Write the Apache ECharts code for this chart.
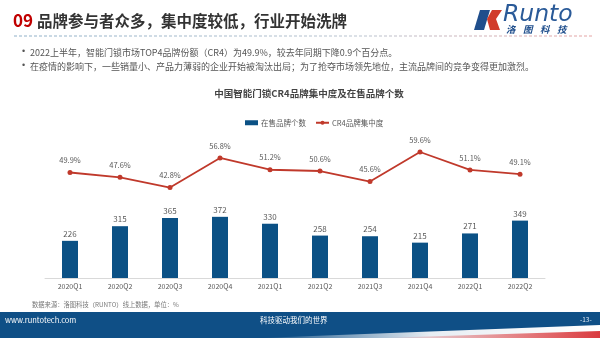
<!DOCTYPE html>
<html><head><meta charset="utf-8">
<script src="https://cdn.jsdelivr.net/npm/echarts@6/dist/echarts.min.js"></script>
<style>html,body{margin:0;padding:0;background:#fff}#c{width:600px;height:338px}</style>
</head><body><div id="c"></div>
<script>
const categories = ['2020Q1','2020Q2','2020Q3','2020Q4','2021Q1','2021Q2','2021Q3','2021Q4','2022Q1','2022Q2'];
const brandCount = [226,315,365,372,330,258,254,215,271,349];
const cr4 = [49.9,47.6,42.8,56.8,51.2,50.6,45.6,59.6,51.1,49.1];
const seriesNames = ['在售品牌个数','CR4品牌集中度'];
const chartTitle = '中国智能门锁CR4品牌集中度及在售品牌个数';
const slideTitleNum = '09';
const slideTitle = '品牌参与者众多，集中度较低，行业开始洗牌';
const bullets = [
  '2022上半年，智能门锁市场TOP4品牌份额（CR4）为49.9%，较去年同期下降0.9个百分点。',
  '在疫情的影响下，一些销量小、产品力薄弱的企业开始被淘汰出局；为了抢夺市场领先地位，主流品牌间的竞争变得更加激烈。'
];
const logoWord = 'Runto';
const logoChars = ['洛','图','科','技'];
const sourceNote = '数据来源：洛图科技（RUNTO）线上数据，单位：%';
const footerLeft = 'www.runtotech.com';
const footerMid = '科技驱动我们的世界';
const footerRight = '-13-';

const FONT = '"Noto Sans CJK SC", "Noto Sans", sans-serif';
const chart = echarts.init(document.getElementById('c'));

const logoCharGraphics = logoChars.map((ch, i) => ({
  type: 'text', left: 506 + i * 17, top: 25,
  style: { text: ch, fontSize: 9.5, fontWeight: 'bold', fontStyle: 'italic', fill: '#1f4e8c', fontFamily: FONT }
}));

chart.setOption({
  backgroundColor: '#fff',
  textStyle: { fontFamily: FONT },
  title: {
    text: chartTitle, left: 304, top: 84, textAlign: 'center',
    textStyle: { fontSize: 9.5, fontWeight: 'bold', color: '#444', fontFamily: FONT }
  },
  legend: {
    top: 114, left: 240, itemGap: 9, itemWidth: 13, itemHeight: 5,
    textStyle: { fontSize: 7.5, color: '#595959', fontFamily: FONT, padding: [0, 0, 0, -2] },
    data: [{ name: seriesNames[0], icon: 'rect' }, { name: seriesNames[1] }]
  },
  grid: { left: 45, right: 55, top: 130, bottom: 60, containLabel: false },
  xAxis: {
    type: 'category', data: categories,
    axisLine: { lineStyle: { color: '#d9d9d9' } },
    axisTick: { show: false },
    axisLabel: { fontSize: 7, color: '#595959', margin: 5, fontFamily: FONT }
  },
  yAxis: [
    { type: 'value', min: 0, max: 900, show: false, splitLine: { show: false } },
    { type: 'value', min: 0, max: 70, show: false, splitLine: { show: false } }
  ],
  series: [
    {
      name: seriesNames[0], type: 'bar', data: brandCount, barWidth: 16, yAxisIndex: 0,
      itemStyle: { color: '#0b5185' },
      label: { show: true, position: 'top', distance: 3, fontSize: 8, color: '#595959', fontFamily: FONT }
    },
    {
      name: seriesNames[1], type: 'line', data: cr4, yAxisIndex: 1,
      symbol: 'circle', symbolSize: 5,
      lineStyle: { color: '#c0392b', width: 1.8 }, itemStyle: { color: '#c0392b' },
      label: { show: true, position: 'top', distance: 6, fontSize: 7.5, color: '#595959', formatter: '{c}%', fontFamily: FONT }
    }
  ],
  graphic: [
    { type: 'text', left: 13, top: 12, style: { text: slideTitleNum, fontSize: 17, fontWeight: 'bold', fill: '#c00000', fontFamily: FONT } },
    { type: 'text', left: 37, top: 13, style: { text: slideTitle, fontSize: 15.5, fontWeight: 'bold', fill: '#333', fontFamily: FONT } },
    { type: 'line', shape: { x1: 14, y1: 36, x2: 592, y2: 36 },
      style: { stroke: new echarts.graphic.LinearGradient(0,0,1,0,[{offset:0,color:'#8fb0c8'},{offset:0.6,color:'#b9c3cf'},{offset:1,color:'#e6a3a3'}]), lineWidth: 1, lineDash: [3, 2] } },
    // logo
    { type: 'polygon', shape: { points: [[480,10],[490,10],[484,30],[474,30]] }, style: { fill: '#1f4e8c' } },
    { type: 'polygon', shape: { points: [[492,10],[502,10],[496,19],[500,30],[490,30],[487,19]] }, style: { fill: '#d13b2b' } },
    { type: 'text', left: 503, top: 3, style: { text: logoWord, fontSize: 23.5, fontStyle: 'italic', fill: '#2a5a98', fontFamily: 'DejaVu Sans, sans-serif' } },
    ...logoCharGraphics,
    // bullets
    { type: 'text', left: 22, top: 47, style: { text: '•', fontSize: 9, fill: '#555' } },
    { type: 'text', left: 30, top: 48, style: { text: bullets[0], fontSize: 9, fill: '#555', fontFamily: FONT } },
    { type: 'text', left: 22, top: 61, style: { text: '•', fontSize: 9, fill: '#555' } },
    { type: 'text', left: 30, top: 62, style: { text: bullets[1], fontSize: 9, fill: '#555', fontFamily: FONT } },
    // source
    { type: 'text', left: 32, top: 301, style: { text: sourceNote, fontSize: 6.3, fill: '#777', fontFamily: FONT } },
    // footer
    { type: 'rect', shape: { x: 0, y: 312, width: 600, height: 26 }, style: { fill: '#0f4f86' } },
    { type: 'polygon', shape: { points: [[260,338],[600,325],[600,338]] },
      style: { fill: new echarts.graphic.LinearGradient(0,0,1,0,[{offset:0,color:'rgba(255,255,255,0)'},{offset:0.5,color:'rgba(255,255,255,0.9)'},{offset:1,color:'#ffffff'}]) } },
    { type: 'polygon', shape: { points: [[380,338],[600,331],[600,338]] },
      style: { fill: new echarts.graphic.LinearGradient(0,0,1,0,[{offset:0,color:'rgba(220,60,60,0)'},{offset:1,color:'#d93a3f'}]) } },
    { type: 'text', left: 5, top: 316, style: { text: footerLeft, fontSize: 7.5, fill: '#fff', fontFamily: FONT } },
    { type: 'text', left: 260, top: 316, style: { text: footerMid, fontSize: 7.5, fill: '#fff', fontFamily: FONT } },
    { type: 'text', left: 580, top: 316, style: { text: footerRight, fontSize: 6.5, fill: '#dbe6f0', fontFamily: FONT } }
  ]
});
</script></body></html>
